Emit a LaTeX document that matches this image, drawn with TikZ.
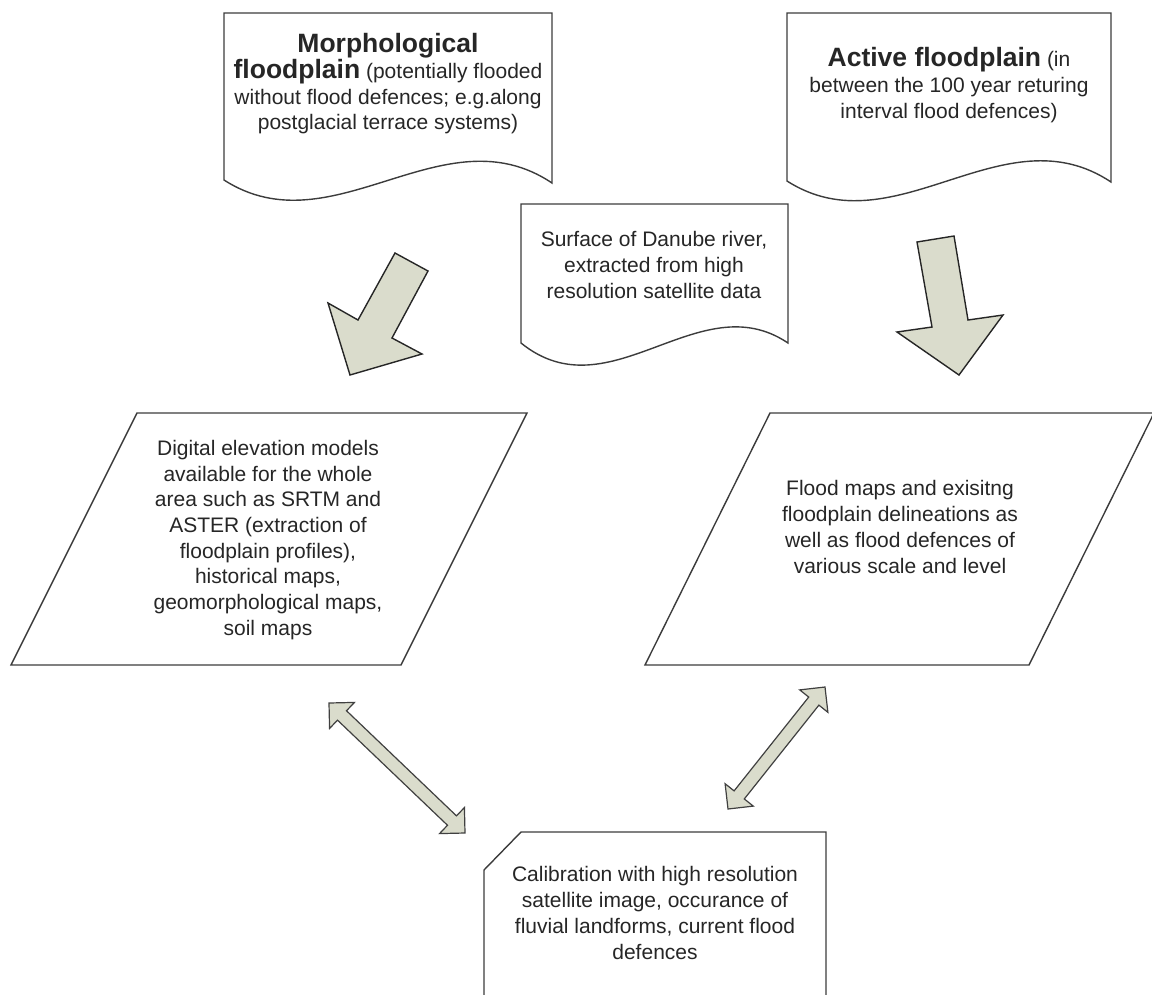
\documentclass[tikz,border=0pt]{standalone}
\usepackage{fontspec}
\setmainfont{Liberation Sans}
\usetikzlibrary{positioning,calc}

\definecolor{arrowfill}{RGB}{218,220,204}
\definecolor{lineclr}{RGB}{60,60,60}
\newcommand{\headbf}{\fontsize{26.5}{30}\selectfont\bfseries}

% two headed block arrow between two named coordinates
\newcommand{\dblarrow}[2]{%
	\path ($(#1)!18pt!(#2)$) coordinate (h1) ($(#2)!18pt!(#1)$) coordinate (h2);
	\draw[thinarrow] (#1) -- ($(h1)!18pt!90:(#2)$) -- ($(h1)!6.5pt!90:(#2)$)
		-- ($(h2)!6.5pt!-90:(#1)$) -- ($(h2)!18pt!-90:(#1)$) -- (#2)
		-- ($(h2)!18pt!90:(#1)$) -- ($(h2)!6.5pt!90:(#1)$)
		-- ($(h1)!6.5pt!-90:(#2)$) -- ($(h1)!18pt!-90:(#2)$) -- cycle;
}

\begin{document}
\begin{tikzpicture}[
x = 1pt, y = -1pt,
every node/.style = {
	font = \fontsize{21}{25.7}\selectfont,
	text = black!85,
	align = center,
	inner sep = 0pt
},
doc/.style = {
	draw = lineclr,
	line width = 1.4pt,
	fill = white
},
data/.style = {
	draw = lineclr,
	line width = 1.4pt,
	fill = white
},
blockarrow/.style = {
	draw = black!85,
	line width = 1.4pt,
	fill = arrowfill,
	line join = miter
},
thinarrow/.style = {
	draw = black!75,
	line width = 1.2pt,
	fill = arrowfill
}
]
\useasboundingbox (0,0) rectangle (1152,994);

% documents on top
\draw[doc] (224,13) -- (552,13) -- (552,183) .. controls (443,110) and (333,250) .. (224,180) -- cycle;
\node (morph) at (388,84) {{\headbf Morphological}\\{\headbf floodplain} (potentially flooded\\without flood defences; e.g.along\\postglacial terrace systems)};

\draw[doc] (787,13) -- (1111,13) -- (1111,182) .. controls (1003,110) and (895,250) .. (787,181) -- cycle;
\node (active) at (949,85) {{\headbf Active floodplain} (in\\between the 100 year returing\\interval flood defences)};

\draw[doc] (521,204) -- (788,204) -- (788,343) .. controls (699,283) and (610,415) .. (521,343) -- cycle;
\node (danube) at (654,265) {Surface of Danube river,\\extracted from high\\resolution satellite data};

% big arrows
\draw[blockarrow] (395,253) -- (358,320) -- (328,303) -- (350,375) -- (422,354) -- (392,338) -- (428,271) -- cycle;
\draw[blockarrow] (917,242) -- (954,236) -- (968,320) -- (1003,315) -- (959,375) -- (897,332) -- (932,327) -- cycle;

% data
\draw[data] (137,413) -- (527,413) -- (401,665) -- (11,665) -- cycle;
\node (dem) at (268,540) {Digital elevation models\\available for the whole\\area such as SRTM and\\ASTER (extraction of\\floodplain profiles),\\historical maps,\\geomorphological maps,\\soil maps};

\draw[data] (770,413) -- (1154,413) -- (1029,665) -- (645,665) -- cycle;
\node (flood) at (900,527) {Flood maps and exisitng\\floodplain delineations as\\well as flood defences of\\various scale and level};

% calibration
\draw[doc] (521,832) -- (826,832) -- (826,1000) -- (484,1000) -- (484,870) -- cycle;
\node (calib) at (655,913) {Calibration with high resolution\\satellite image, occurance of\\fluvial landforms, current flood\\defences};

\coordinate (demcal-a) at (329,703);
\coordinate (demcal-b) at (465,833);
\coordinate (floodcal-a) at (825,687);
\coordinate (floodcal-b) at (728,809);
\dblarrow{demcal-a}{demcal-b}
\dblarrow{floodcal-a}{floodcal-b}

\end{tikzpicture}
\end{document}
